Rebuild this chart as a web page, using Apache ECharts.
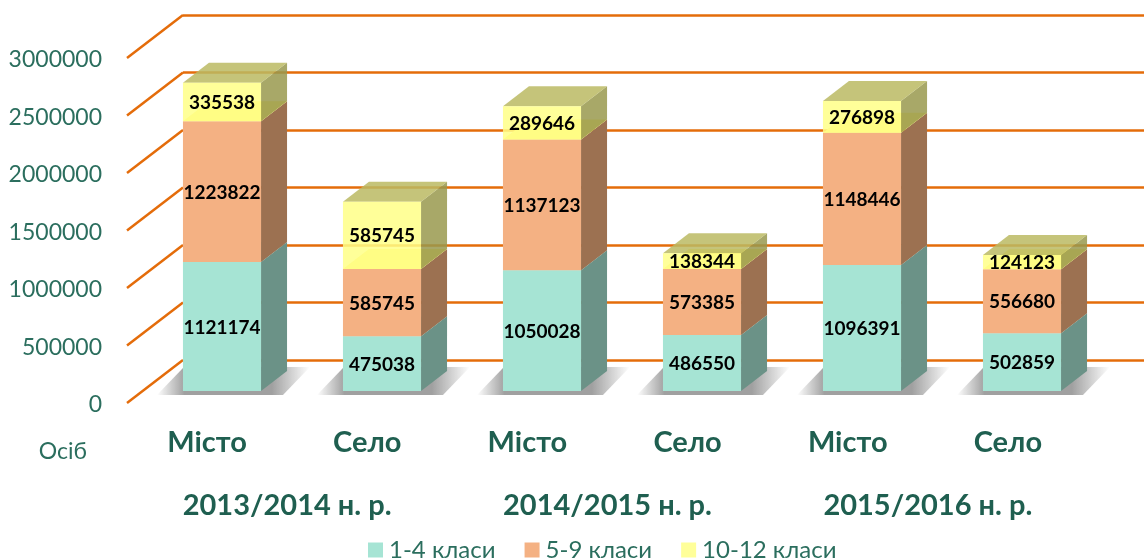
<!DOCTYPE html>
<html>
<head>
<meta charset="utf-8">
<title>Chart</title>
<script src="https://cdn.jsdelivr.net/npm/echarts@6/dist/echarts.min.js"></script>
<style>
html, body { margin: 0; padding: 0; background: #fff; }
#main { width: 1144px; height: 559px; }
</style>
</head>
<body>
<div id="main"></div>
<script>
var places = ["Місто", "Село", "Місто", "Село", "Місто", "Село"];
var years = ["2013/2014 н. р.", "2014/2015 н. р.", "2015/2016 н. р."];
var grade1to4 = [1121174, 475038, 1050028, 486550, 1096391, 502859];
var grade5to9 = [1223822, 585745, 1137123, 573385, 1148446, 556680];
var grade10to12 = [335538, 585745, 289646, 138344, 276898, 124123];
var ticks = [0, 500000, 1000000, 1500000, 2000000, 2500000, 3000000];

var fontName = "Lato, 'Open Sans', sans-serif";
var textColor = "#2B6E5E";
var titleColor = "#1F5F50";
var lineColor = "#E46C0A";
var depthX = 26;
var depthY = 20;
var labelDrop = 2; // tick labels sit a little under the wall lines

var chart = echarts.init(document.getElementById("main"));

// 3d block for one part of the stack
function blockRenderer(front, side, top) {
	return function(params, api) {
		var start = api.coord([api.value(0), api.value(1)]);
		var end = api.coord([api.value(0), api.value(2)]);
		var half = api.size([1, 0])[0] * 0.244;
		var l = start[0] - half;
		var r = start[0] + half;
		return {
			type: "group",
			children: [{
				type: "polygon",
				shape: { points: [[r, start[1]], [r + depthX, start[1] - depthY], [r + depthX, end[1] - depthY], [r, end[1]]] },
				style: { fill: side }
			}, {
				type: "polygon",
				shape: { points: [[l, end[1]], [r, end[1]], [r + depthX, end[1] - depthY], [l + depthX, end[1] - depthY]] },
				style: { fill: top }
			}, {
				type: "rect",
				shape: { x: l, y: end[1], width: r - l, height: start[1] - end[1] },
				style: { fill: front }
			}, {
				type: "text",
				x: start[0],
				y: (start[1] + end[1]) / 2 + 1,
				style: {
					text: String(api.value(3)),
					fill: "#000",
					font: "bold 19px " + fontName,
					align: "center",
					verticalAlign: "middle"
				}
			}]
		};
	};
}

function shadowRenderer(params, api) {
	var base = api.coord([api.value(0), 0]);
	var half = api.size([1, 0])[0] * 0.244;
	var l = base[0] - half - 26;
	var y = base[1] + 4;
	return {
		type: "polygon",
		shape: { points: [[l, y], [l + 126, y], [l + 153, y - 28], [l + 27, y - 28]] },
		style: {
			fill: new echarts.graphic.LinearGradient(0, 0, 1, 0, [
				{ offset: 0, color: "rgba(160,160,160,0)" },
				{ offset: 0.18, color: "rgba(160,160,160,1)" },
				{ offset: 0.75, color: "rgba(160,160,160,1)" },
				{ offset: 1, color: "rgba(160,160,160,0)" }
			])
		}
	};
}

// diagonal wall lines, from the front labels to the back wall
function wallRenderer(params, api) {
	var y = api.coord([0, api.value(0)])[1] - labelDrop;
	var x = params.coordSys.x;
	return {
		type: "line",
		shape: { x1: x, y1: y, x2: x + 56, y2: y - 43 },
		style: { stroke: lineColor, lineWidth: 2.5 }
	};
}

function buildStack(low, values) {
	var rows = [];
	for (var i = 0; i < values.length; i++) {
		rows.push([i, low[i], low[i] + values[i], values[i]]);
	}
	return rows;
}

var zeros = [0, 0, 0, 0, 0, 0];
var top5to9 = [];
for (var i = 0; i < grade1to4.length; i++) {
	top5to9.push(grade1to4[i] + grade5to9[i]);
}

function blockSeries(name, rows, front, side, top, z) {
	return {
		type: "custom",
		name: name,
		xAxisIndex: 0,
		yAxisIndex: 0,
		z: z,
		itemStyle: { color: front },
		encode: { x: 0, y: [1, 2] },
		data: rows,
		renderItem: blockRenderer(front, side, top)
	};
}

chart.setOption({
	animation: false,
	textStyle: { fontFamily: fontName },
	grid: [
		{ left: 142, width: 960, top: 46, height: 345, outerBoundsMode: "none" },
		{ left: 127, width: 961, top: 58 + labelDrop, height: 345, outerBoundsMode: "none" },
		{ left: 183, right: 0, top: 15, height: 345, outerBoundsMode: "none" }
	],
	xAxis: [
		{ type: "category", gridIndex: 0, data: places, show: false },
		{
			type: "category",
			gridIndex: 1,
			data: places,
			axisLine: { show: false },
			axisTick: { show: false },
			axisLabel: { margin: 25 - labelDrop, interval: 0, color: titleColor, fontSize: 29, fontWeight: "bold", fontFamily: fontName }
		},
		{
			type: "category",
			gridIndex: 1,
			position: "bottom",
			offset: 63,
			data: years,
			axisLine: { show: false },
			axisTick: { show: false },
			axisLabel: { margin: 25 - labelDrop, interval: 0, color: titleColor, fontSize: 29, fontWeight: "bold", fontFamily: fontName }
		},
		{ type: "category", gridIndex: 2, data: places, show: false }
	],
	yAxis: [
		{ type: "value", gridIndex: 0, min: 0, max: 3000000, interval: 500000, show: false },
		{
			type: "value",
			gridIndex: 1,
			min: ticks[0],
			max: ticks[ticks.length - 1],
			interval: ticks[1],
			name: "Осіб",
			nameLocation: "start",
			nameGap: 37 - labelDrop,
			nameTextStyle: { color: textColor, fontSize: 23, fontFamily: fontName, align: "right", padding: [0, 40, 0, 0] },
			axisLine: { show: false },
			axisTick: { show: false },
			splitLine: { show: false },
			axisLabel: {
				margin: 25,
				color: textColor,
				fontSize: 23,
				fontFamily: fontName,
				formatter: function(v) { return String(v); }
			}
		},
		{
			type: "value",
			gridIndex: 2,
			min: ticks[0],
			max: ticks[ticks.length - 1],
			interval: ticks[1],
			axisLine: { show: false },
			axisTick: { show: false },
			axisLabel: { show: false },
			splitLine: { show: true, lineStyle: { color: lineColor, width: 2.5 } }
		}
	],
	legend: {
		left: 368,
		top: 538,
		padding: 0,
		itemWidth: 15,
		itemHeight: 15,
		itemGap: 29,
		itemStyle: { borderWidth: 0 },
		icon: "rect",
		textStyle: { color: textColor, fontSize: 24, fontFamily: fontName, padding: [0, 0, 0, 1] },
		data: ["1-4 класи", "5-9 класи", "10-12 класи"]
	},
	series: [
		{
			type: "custom",
			name: "walls",
			xAxisIndex: 1,
			yAxisIndex: 1,
			z: 1,
			silent: true,
			encode: { y: 0 },
			data: ticks,
			renderItem: wallRenderer
		},
		{
			type: "custom",
			name: "shadow",
			xAxisIndex: 0,
			yAxisIndex: 0,
			z: 2,
			silent: true,
			encode: { x: 0 },
			data: places.map(function(p, k) { return [k]; }),
			renderItem: shadowRenderer
		},
		blockSeries("1-4 класи", buildStack(zeros, grade1to4), "#A6E4D4", "#6B9287", "#8FBFB2", 3),
		blockSeries("5-9 класи", buildStack(grade1to4, grade5to9), "#F4B183", "#9C7151", "#FFF070", 4),
		blockSeries("10-12 класи", buildStack(top5to9, grade10to12), "rgba(255,255,135,0.85)", "rgba(153,153,78,0.85)", "rgba(187,186,99,0.85)", 5)
	]
});
</script>
</body>
</html>
